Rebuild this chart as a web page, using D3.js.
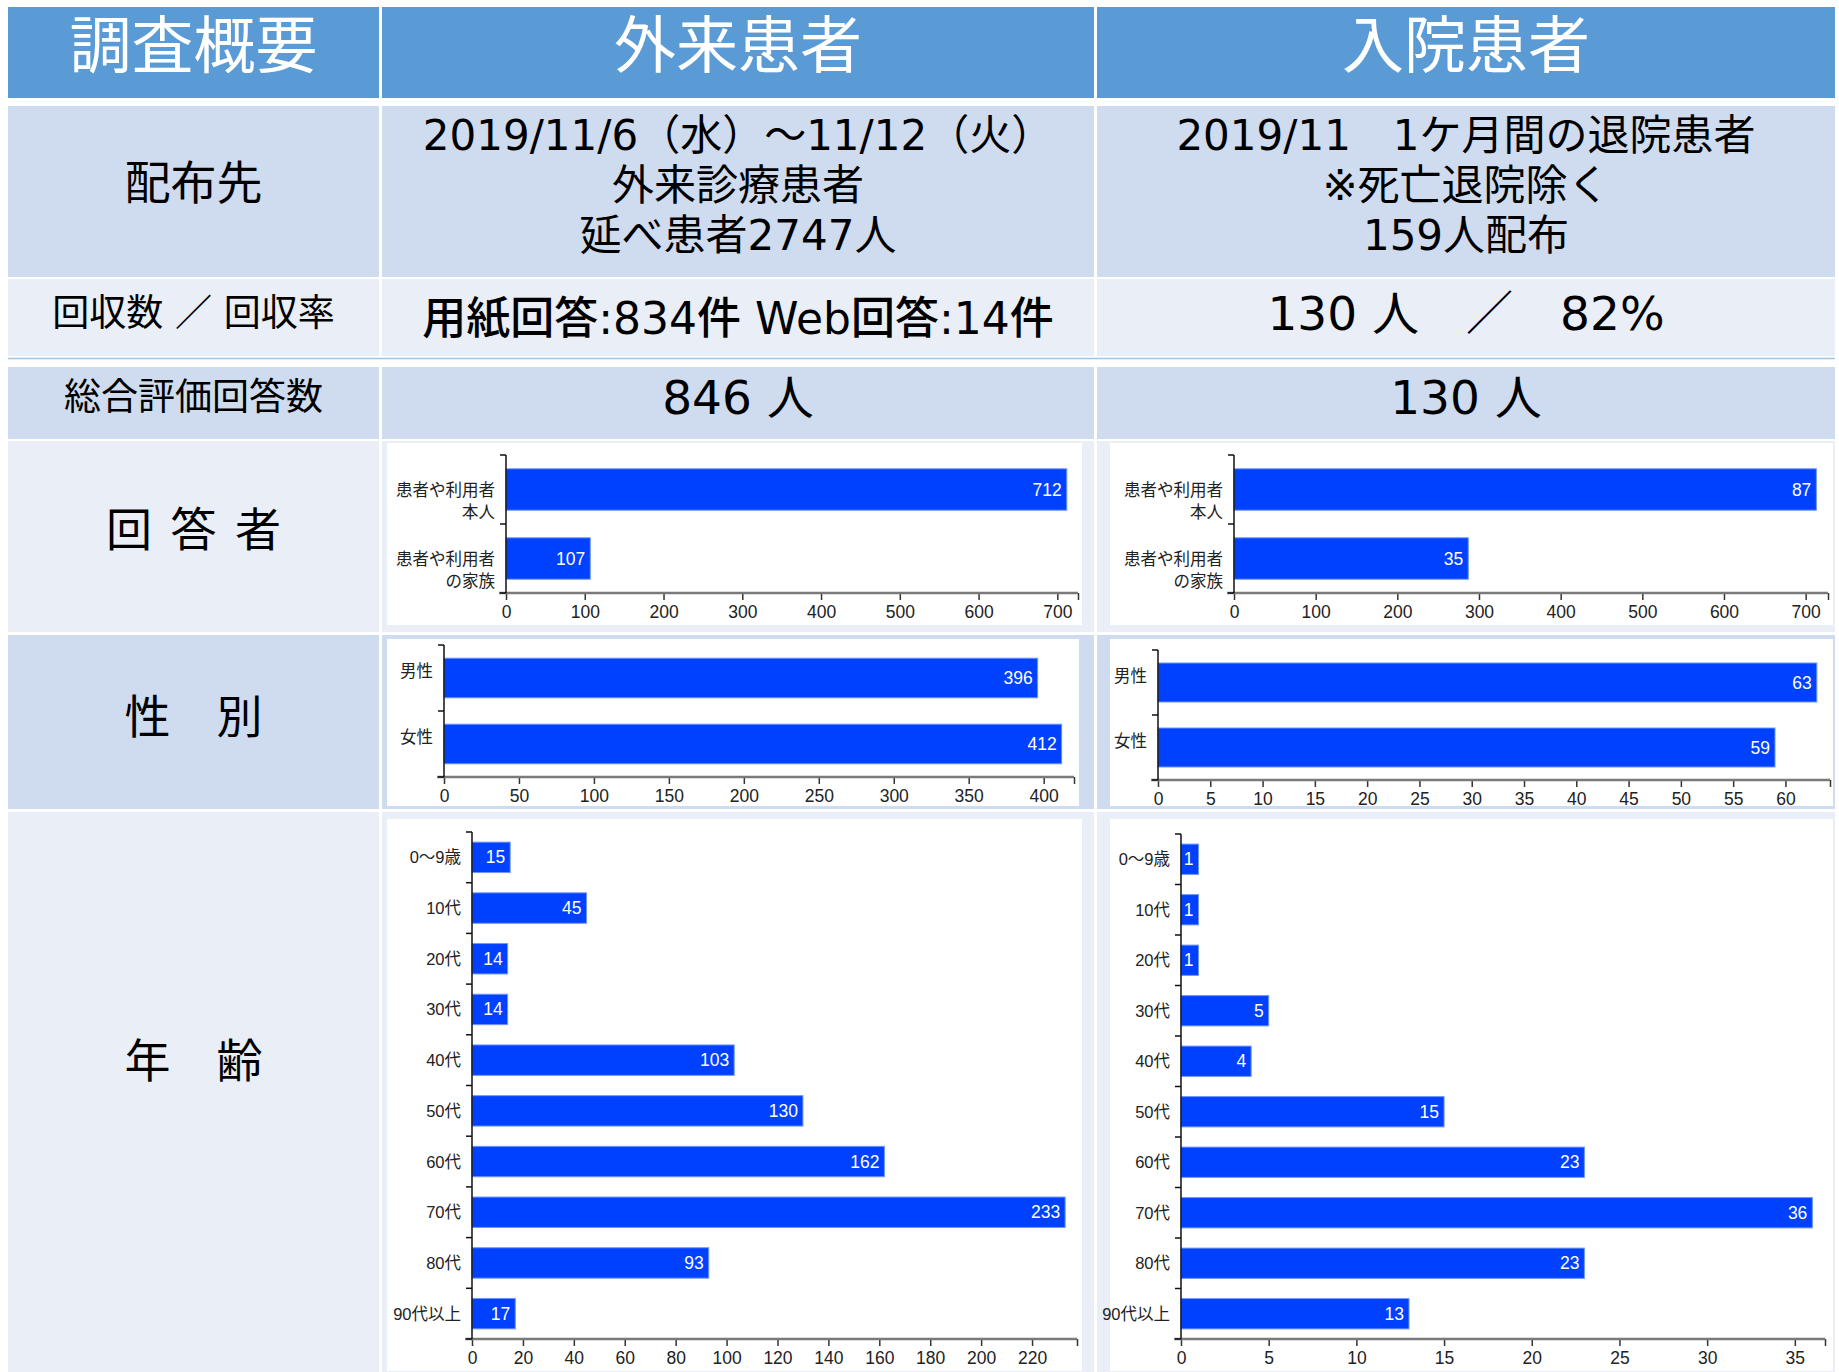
<!DOCTYPE html>
<html>
<head>
<meta charset="utf-8">
<script src="https://cdn.jsdelivr.net/npm/d3@7"></script>
<style>
  body { margin: 0; background: #fff; }
</style>
</head>
<body>
<div id="chart"></div>
<script>
// ---- table texts ----
const headerLabels = [ '調査概要', '外来患者', '入院患者' ];
const rowLabels = [ '配布先', '回収数 ／ 回収率', '総合評価回答数', '回 答 者', '性　別', '年　齢' ];
const outDistribution = [ '2019/11/6（水）～11/12（火）', '外来診療患者', '延べ患者2747人' ];
const inDistribution = [ '2019/11　1ケ月間の退院患者', '※死亡退院除く', '159人配布' ];
const outCollection = '用紙回答:834件 Web回答:14件';
const inCollection = '130 人　／　82%';
const outOverall = '846 人';
const inOverall = '130 人';

// ---- chart data ----
const respondentCategories = [ '患者や利用者\n本人', '患者や利用者\nの家族' ];
const outRespondent = [ 712, 107 ];
const inRespondent = [ 87, 35 ];
const respondentTicks = [ 0, 100, 200, 300, 400, 500, 600, 700 ];

const genderCategories = [ '男性', '女性' ];
const outGender = [ 396, 412 ];
const inGender = [ 63, 59 ];
const outGenderTicks = [ 0, 50, 100, 150, 200, 250, 300, 350, 400 ];
const inGenderTicks = [ 0, 5, 10, 15, 20, 25, 30, 35, 40, 45, 50, 55, 60 ];

const ageCategories = [ '0～9歳', '10代', '20代', '30代', '40代', '50代', '60代', '70代', '80代', '90代以上' ];
const outAge = [ 15, 45, 14, 14, 103, 130, 162, 233, 93, 17 ];
const inAge = [ 1, 1, 1, 5, 4, 15, 23, 36, 23, 13 ];
const outAgeTicks = [ 0, 20, 40, 60, 80, 100, 120, 140, 160, 180, 200, 220 ];
const inAgeTicks = [ 0, 5, 10, 15, 20, 25, 30, 35 ];

// ---- layout ----
const W = 1839, H = 1372;
const TABLE_FONT = "'DejaVu Sans', 'Noto Sans CJK JP', sans-serif";
const CHART_FONT = "'Liberation Sans', 'Noto Sans CJK JP', sans-serif";
const DARK = '#cfdbee', LIGHT = '#e9eef7', HEAD = '#5b9bd5';
const BAR = '#0040ff';

const cols = [ [ 8, 379 ], [ 382, 1094 ], [ 1097, 1835 ] ];
const rows = [
  { y0: 7, y1: 98, fill: HEAD },
  { y0: 106, y1: 277, fill: DARK },
  { y0: 279, y1: 356, fill: LIGHT },
  { y0: 367, y1: 439, fill: DARK },
  { y0: 441, y1: 632, fill: LIGHT },
  { y0: 635, y1: 809, fill: DARK },
  { y0: 812, y1: 1372, fill: LIGHT }
];
const colCenter = i => ( cols[ i ][ 0 ] + cols[ i ][ 1 ] ) / 2;

const svg = d3.select( '#chart' ).append( 'svg' )
  .attr( 'width', W ).attr( 'height', H )
  .style( 'display', 'block' );

svg.append( 'rect' ).attr( 'width', W ).attr( 'height', H ).attr( 'fill', '#fff' );

// cells
rows.forEach( r => {
  cols.forEach( c => {
    svg.append( 'rect' )
      .attr( 'x', c[ 0 ] ).attr( 'y', r.y0 )
      .attr( 'width', c[ 1 ] - c[ 0 ] ).attr( 'height', r.y1 - r.y0 )
      .attr( 'fill', r.fill );
  } );
} );

// thin blue rule under the collection row
svg.append( 'line' )
  .attr( 'x1', 8 ).attr( 'x2', 1835 ).attr( 'y1', 358.5 ).attr( 'y2', 358.5 )
  .attr( 'stroke', '#9dc3e6' ).attr( 'stroke-width', 1.5 );

/**
 * Adds a (possibly multi-line) centred text block to the table
 */
function addText( txt, x, y, size, opts = {} ) {
  const lines = Array.isArray( txt ) ? txt : [ txt ];
  const t = svg.append( 'text' )
    .attr( 'text-anchor', 'middle' )
    .style( 'font-family', opts.font || TABLE_FONT )
    .style( 'font-size', size + 'px' )
    .style( 'font-weight', opts.weight || 'normal' )
    .style( 'word-spacing', opts.wordSpacing || 'normal' )
    .attr( 'fill', opts.fill || '#000' );
  lines.forEach( ( ln, k ) => {
    const s = t.append( 'tspan' )
      .attr( 'x', x )
      .attr( 'y', y + k * ( opts.lineStep || 0 ) )
      .text( ln );
    if ( !opts.baseline ) s.attr( 'dominant-baseline', 'central' );
  } );
  return t;
}

// header (y given as baseline)
headerLabels.forEach( ( t, i ) => addText( t, colCenter( i ), 68, 62, { fill: '#fff', baseline: true } ) );

// left column labels
addText( rowLabels[ 0 ], colCenter( 0 ), 183, 46 );
addText( rowLabels[ 1 ], colCenter( 0 ), 313, 37 );
addText( rowLabels[ 2 ], colCenter( 0 ), 397, 37 );
addText( rowLabels[ 3 ], colCenter( 0 ), 530, 46, { wordSpacing: '4px' } );
addText( rowLabels[ 4 ], colCenter( 0 ), 717, 46 );
addText( rowLabels[ 5 ], colCenter( 0 ), 1061, 46 );

// distribution lines
addText( outDistribution, colCenter( 1 ), 135, 42, { lineStep: 50 } );
addText( inDistribution, colCenter( 2 ), 135, 42, { lineStep: 50 } );

addText( outCollection, colCenter( 1 ), 318, 44, { weight: 500 } );
addText( inCollection, colCenter( 2 ), 313, 47 );
addText( outOverall, colCenter( 1 ), 397, 47 );
addText( inOverall, colCenter( 2 ), 397, 47 );

/**
 * Horizontal bar chart inside a white panel
 */
function barChart( cfg ) {
  const { panel, cats, values, barValues = values, ticks, axisX, endX, top, bottom, labelShift = 0 } = cfg;

  svg.append( 'rect' )
    .attr( 'x', panel[ 0 ] ).attr( 'y', panel[ 1 ] )
    .attr( 'width', panel[ 2 ] - panel[ 0 ] ).attr( 'height', panel[ 3 ] - panel[ 1 ] )
    .attr( 'fill', '#fff' );

  const g = svg.append( 'g' ).style( 'font-family', CHART_FONT );

  const xMax = d3.max( barValues ) * 1.02;
  const x = d3.scaleLinear().domain( [ 0, xMax ] ).range( [ axisX, endX ] );
  const y = d3.scaleBand().domain( cats ).range( [ top, bottom ] )
    .paddingInner( 0.4 ).paddingOuter( 0.2 );

  // bars
  g.selectAll( 'rect.bar' ).data( cats ).join( 'rect' )
    .attr( 'class', 'bar' )
    .attr( 'x', x( 0 ) )
    .attr( 'y', d => y( d ) )
    .attr( 'width', ( d, i ) => x( barValues[ i ] ) - x( 0 ) )
    .attr( 'height', y.bandwidth() )
    .attr( 'fill', BAR )
    .attr( 'stroke', '#6f96ff' )
    .attr( 'stroke-width', 1 );

  // value labels
  g.selectAll( 'text.val' ).data( cats ).join( 'text' )
    .attr( 'class', 'val' )
    .attr( 'x', ( d, i ) => x( barValues[ i ] ) - 5 )
    .attr( 'y', d => y( d ) + y.bandwidth() / 2 )
    .attr( 'text-anchor', 'end' )
    .attr( 'dominant-baseline', 'central' )
    .attr( 'fill', '#fff' )
    .style( 'font-size', '17.5px' )
    .text( ( d, i ) => values[ i ] );

  // x axis
  const xAxis = g.append( 'g' )
    .attr( 'transform', `translate(0,${bottom})` )
    .call( d3.axisBottom( x )
      .tickValues( [ ...ticks, xMax ] )
      .tickSize( 7 )
      .tickPadding( 6 )
      .tickFormat( d => ticks.includes( d ) ? d : '' ) );
  xAxis.select( '.domain' ).remove();
  xAxis.selectAll( '.tick line' ).attr( 'stroke', '#333' ).attr( 'stroke-width', 1.5 );
  xAxis.selectAll( '.tick text' ).attr( 'fill', '#222' ).style( 'font-size', '17.5px' )
    .style( 'font-family', CHART_FONT );
  g.append( 'line' )
    .attr( 'x1', axisX - 7 ).attr( 'x2', endX )
    .attr( 'y1', bottom ).attr( 'y2', bottom )
    .attr( 'stroke', '#7a7a7a' ).attr( 'stroke-width', 2.5 );

  // y axis line and slot ticks
  g.append( 'line' )
    .attr( 'x1', axisX ).attr( 'x2', axisX )
    .attr( 'y1', top ).attr( 'y2', bottom )
    .attr( 'stroke', '#111' ).attr( 'stroke-width', 1.5 );
  const step = y.step();
  g.selectAll( 'line.ytick' ).data( d3.range( cats.length + 1 ) ).join( 'line' )
    .attr( 'class', 'ytick' )
    .attr( 'x1', axisX - 6 ).attr( 'x2', axisX )
    .attr( 'y1', i => top + i * step ).attr( 'y2', i => top + i * step )
    .attr( 'stroke', '#111' ).attr( 'stroke-width', 1.5 );

  // category labels
  cats.forEach( c => {
    const lines = c.split( '\n' );
    const cy = y( c ) + y.bandwidth() / 2 + labelShift;
    const t = g.append( 'text' )
      .attr( 'text-anchor', 'end' )
      .attr( 'fill', '#222' )
      .style( 'font-size', '16.5px' );
    lines.forEach( ( ln, k ) => {
      t.append( 'tspan' )
        .attr( 'x', axisX - 11 )
        .attr( 'y', cy + k * 22 )
        .attr( 'dominant-baseline', 'central' )
        .text( ln );
    } );
  } );
}

// respondent
barChart( {
  panel: [ 387, 443, 1082, 625 ], cats: respondentCategories, values: outRespondent,
  ticks: respondentTicks, axisX: 506, endX: 1078, top: 455, bottom: 593
} );
// inpatient respondent bars are drawn as per-mille of all answers, as in the original
const inRespondentTotal = d3.sum( inRespondent );
barChart( {
  panel: [ 1110, 443, 1833, 625 ], cats: respondentCategories, values: inRespondent,
  barValues: inRespondent.map( v => v / inRespondentTotal * 1000 ),
  ticks: respondentTicks, axisX: 1234, endX: 1828, top: 455, bottom: 593
} );

// gender
barChart( {
  panel: [ 387, 639, 1079, 806 ], cats: genderCategories, values: outGender,
  ticks: outGenderTicks, axisX: 444, endX: 1074, top: 645, bottom: 777, labelShift: -7
} );
barChart( {
  panel: [ 1110, 639, 1833, 806 ], cats: genderCategories, values: inGender,
  ticks: inGenderTicks, axisX: 1158, endX: 1830, top: 650, bottom: 780, labelShift: -7
} );

// age
barChart( {
  panel: [ 387, 819, 1082, 1371 ], cats: ageCategories, values: outAge,
  ticks: outAgeTicks, axisX: 472, endX: 1077, top: 832, bottom: 1339
} );
barChart( {
  panel: [ 1110, 819, 1833, 1371 ], cats: ageCategories, values: inAge,
  ticks: inAgeTicks, axisX: 1181, endX: 1825, top: 834, bottom: 1339
} );
</script>
</body>
</html>
